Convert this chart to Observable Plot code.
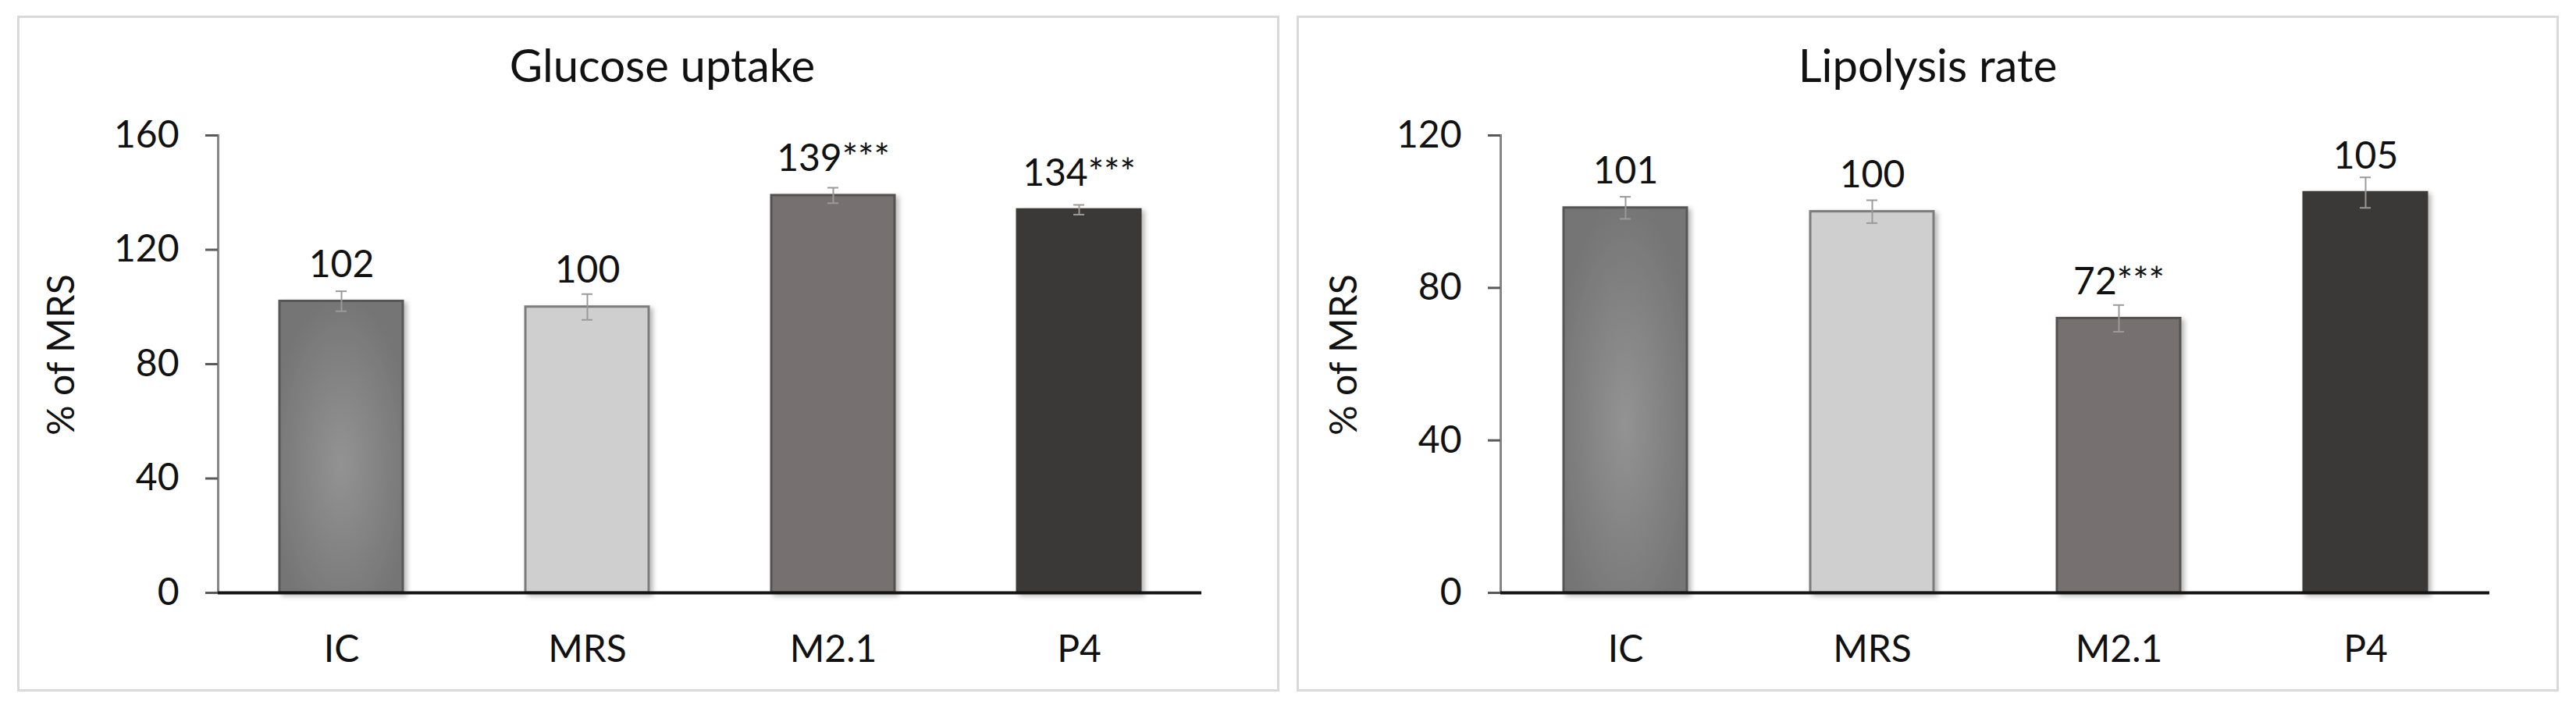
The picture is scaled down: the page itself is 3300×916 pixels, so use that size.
<!DOCTYPE html>
<html>
<head>
<meta charset="utf-8">
<script src="https://cdn.jsdelivr.net/npm/d3@7"></script>
<script src="https://cdn.jsdelivr.net/npm/@observablehq/plot@0.6"></script>
<style>
  html, body { margin: 0; padding: 0; background: #fff; }
  body { width: 3300px; height: 916px; position: relative; overflow: hidden; font-family: Lato, sans-serif; }
  .panel { position: absolute; box-sizing: border-box; border: 3px solid #d9d9d9; background: #fff; }
  .title { position: absolute; text-align: center; font-family: Lato, sans-serif; font-size: 58px; line-height: 58px; color: #111; white-space: nowrap; }
  .chart { position: absolute; }
</style>
</head>
<body>
<svg width="0" height="0" style="position:absolute">
  <defs>
    <radialGradient id="gradIC" cx="0.5" cy="0.56" r="0.6" gradientUnits="objectBoundingBox">
      <stop offset="0" stop-color="#939393"/>
      <stop offset="1" stop-color="#747474"/>
    </radialGradient>
    <filter id="barShadow" x="-10%" y="-10%" width="130%" height="130%">
      <feDropShadow dx="4" dy="3" stdDeviation="3" flood-color="#000" flood-opacity="0.28"/>
    </filter>
  </defs>
</svg>

<div class="panel" style="left:22px; top:20px; width:1617px; height:866px;"></div>
<div class="panel" style="left:1661px; top:20px; width:1617px; height:866px;"></div>
<div class="title" id="t1" style="left:22px; width:1617px; top:54px; padding-left:36px; box-sizing:border-box;"></div>
<div class="title" id="t2" style="left:1661px; width:1617px; top:54px;"></div>
<div class="chart" id="c1" style="left:25px; top:140px;"></div>
<div class="chart" id="c2" style="left:1664px; top:140px;"></div>

<script>
// ---- data ----
const categories = ["IC", "MRS", "M2.1", "P4"];

const glucoseTitle = "Glucose uptake";
const glucoseValues = [102, 100, 139, 134];
const glucoseErrors = [3.5, 4.5, 2.7, 1.7];
const glucoseLabels = ["102", "100", "139***", "134***"];
const glucoseTicks = [0, 40, 80, 120, 160];

const lipolysisTitle = "Lipolysis rate";
const lipolysisValues = [101, 100, 72, 105];
const lipolysisErrors = [2.9, 3.0, 3.5, 4.0];
const lipolysisLabels = ["101", "100", "72***", "105"];
const lipolysisTicks = [0, 40, 80, 120];

const yAxisLabel = "% of MRS";

// ---- styles ----
const barFills = ["url(#gradIC)", "#d0cfcf", "#767170", "#3b3938"];
const barStrokes = ["#575757", "#7b7b7b", "#555151", "#3b3938"];

function makeChart(values, errors, labels, ticks, marginLeft, marginRight) {
  const data = categories.map((c, i) => ({
    cat: c, value: values[i], err: errors[i], label: labels[i],
    fill: barFills[i], stroke: barStrokes[i]
  }));
  const plot = Plot.plot({
    width: 1610,
    height: 740,
    marginLeft,
    marginRight,
    marginTop: 33,
    marginBottom: 121,
    style: { fontFamily: "Lato, sans-serif", fontSize: "48px", color: "#111", background: "transparent", overflow: "visible" },
    x: { domain: categories, paddingInner: 0.5, paddingOuter: 0.25, label: null },
    y: { domain: [0, ticks[ticks.length - 1]], label: null },
    color: { type: "identity" },
    marks: [
      Plot.frame({ anchor: "left", stroke: "#868686", strokeWidth: 3 }),
      Plot.barY(data, { x: "cat", y: "value", fill: "fill", stroke: "stroke", strokeWidth: 3, className: "bars" }),
      Plot.ruleX(data, { x: "cat", y1: d => d.value - d.err, y2: d => d.value + d.err, stroke: "#9a9a9a", strokeWidth: 2 }),
      Plot.tickY(data, { x: "cat", y: d => d.value + d.err, stroke: "#9a9a9a", strokeWidth: 2, inset: 72 }),
      Plot.tickY(data, { x: "cat", y: d => d.value - d.err, stroke: "#9a9a9a", strokeWidth: 2, inset: 72 }),
      Plot.ruleY([0], { stroke: "#141414", strokeWidth: 4 }),
      Plot.axisY({ ticks, tickSize: 16, tickPadding: 34, stroke: "#595959", strokeWidth: 3, fontSize: 48, label: null }),
      Plot.axisX({ tickSize: 0, tickPadding: 54, fontSize: 48, label: null }),
      Plot.text(data, { x: "cat", y: "value", text: "label", lineAnchor: "bottom", dy: -31, fontSize: 48, fill: "#111" }),
      Plot.text([yAxisLabel], { text: d => d, frameAnchor: "left", rotate: -90, dx: -200, dy: -12, fontSize: 48, fill: "#111", lineAnchor: "middle", textAnchor: "middle" })
    ]
  });
  d3.select(plot).selectAll("g.bars, g[aria-label='bar']").attr("filter", "url(#barShadow)");
  return plot;
}

document.getElementById("t1").textContent = glucoseTitle;
document.getElementById("t2").textContent = lipolysisTitle;
document.getElementById("c1").appendChild(makeChart(glucoseValues, glucoseErrors, glucoseLabels, glucoseTicks, 254, 96));
document.getElementById("c2").appendChild(makeChart(lipolysisValues, lipolysisErrors, lipolysisLabels, lipolysisTicks, 258, 85));
</script>
</body>
</html>
